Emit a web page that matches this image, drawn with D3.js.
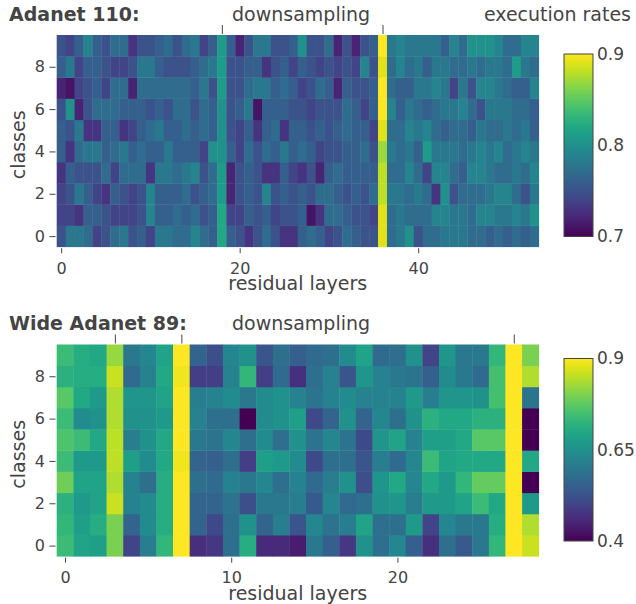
<!DOCTYPE html>
<html><head><meta charset="utf-8">
<script src="https://cdn.jsdelivr.net/npm/d3@7"></script>
<style>
body{margin:0;background:#fff}
svg{display:block}
text{font-family:"DejaVu Sans",sans-serif;fill:#444}
</style>
</head><body><svg id="chart" width="636" height="604"></svg>
<script>
// ---------- data ----------
const classes = [0, 1, 2, 3, 4, 5, 6, 7, 8, 9];
const classTicks = [0, 2, 4, 6, 8];

const adanetTitle = "Adanet 110:";
const adanetDownsampling = [18, 36];
const adanetXTicks = [0, 20, 40];
const adanetColorTicks = [0.7, 0.8, 0.9];
const adanetRange = [0.7, 0.9];
// rows = classes 0..9, columns = residual layers 0..53
const adanetRates = [
  [.75,.78,.78,.77,.74,.75,.77,.78,.75,.76,.74,.78,.78,.77,.77,.79,.77,.76,.82,.76,.75,.73,.75,.77,.75,.73,.73,.76,.77,.76,.74,.75,.77,.76,.75,.75,.89,.77,.78,.80,.75,.77,.77,.78,.78,.78,.77,.77,.76,.77,.76,.77,.76,.77],
  [.74,.74,.73,.76,.76,.75,.74,.74,.74,.75,.79,.76,.76,.77,.76,.77,.75,.76,.82,.74,.74,.76,.75,.76,.74,.75,.75,.76,.71,.73,.77,.77,.76,.75,.75,.74,.89,.77,.78,.77,.77,.77,.79,.79,.78,.78,.77,.79,.79,.78,.78,.79,.78,.80],
  [.74,.75,.78,.76,.74,.73,.76,.75,.74,.75,.79,.76,.76,.76,.77,.75,.76,.77,.81,.72,.75,.76,.75,.79,.75,.76,.75,.76,.75,.77,.77,.76,.75,.76,.75,.77,.88,.78,.78,.77,.78,.77,.73,.80,.75,.77,.77,.77,.78,.79,.79,.77,.75,.78],
  [.73,.76,.75,.75,.75,.77,.74,.77,.77,.77,.73,.78,.78,.77,.78,.79,.75,.77,.81,.72,.75,.76,.75,.73,.73,.76,.74,.73,.75,.72,.76,.77,.76,.76,.76,.76,.88,.77,.77,.79,.77,.74,.79,.79,.77,.76,.79,.79,.78,.77,.77,.78,.77,.79],
  [.76,.73,.77,.78,.78,.76,.77,.78,.76,.77,.76,.76,.78,.76,.76,.76,.74,.80,.80,.76,.74,.77,.75,.77,.76,.78,.76,.77,.76,.74,.75,.75,.76,.76,.77,.75,.87,.78,.77,.78,.76,.81,.78,.78,.78,.77,.78,.79,.78,.79,.77,.78,.79,.78],
  [.76,.75,.78,.73,.73,.76,.76,.73,.74,.76,.77,.78,.76,.76,.77,.76,.77,.76,.80,.75,.74,.76,.73,.76,.77,.73,.76,.76,.75,.76,.75,.76,.77,.76,.76,.74,.89,.77,.77,.79,.78,.79,.77,.76,.77,.77,.76,.78,.77,.77,.78,.77,.78,.76],
  [.75,.80,.72,.75,.77,.77,.77,.76,.76,.76,.75,.76,.75,.77,.77,.75,.77,.76,.80,.75,.76,.78,.71,.76,.76,.76,.75,.75,.74,.75,.75,.75,.77,.76,.74,.76,.90,.79,.76,.78,.77,.76,.77,.78,.78,.79,.77,.75,.78,.78,.78,.77,.77,.76],
  [.72,.71,.74,.75,.76,.74,.77,.77,.72,.77,.77,.77,.77,.77,.77,.76,.78,.75,.81,.75,.75,.77,.78,.78,.76,.77,.76,.74,.75,.77,.76,.72,.76,.75,.75,.76,.90,.77,.76,.76,.78,.78,.79,.78,.74,.78,.75,.79,.79,.78,.77,.76,.76,.79],
  [.76,.78,.74,.76,.76,.75,.74,.74,.75,.78,.78,.76,.75,.75,.75,.76,.77,.78,.81,.75,.75,.76,.76,.73,.75,.76,.74,.76,.75,.74,.75,.74,.75,.74,.79,.75,.89,.77,.79,.77,.78,.76,.78,.78,.77,.77,.78,.77,.78,.78,.77,.81,.78,.77],
  [.75,.74,.76,.79,.76,.75,.77,.77,.73,.75,.75,.76,.77,.75,.77,.78,.74,.76,.81,.76,.72,.75,.78,.78,.75,.75,.76,.80,.75,.75,.77,.72,.75,.72,.75,.76,.90,.78,.79,.78,.78,.78,.78,.76,.79,.77,.80,.80,.80,.79,.77,.77,.79,.79]
];

const wideTitle = "Wide Adanet 89:";
const wideDownsampling = [3, 7, 27];
const wideXTicks = [0, 10, 20];
const wideColorTicks = [0.4, 0.65, 0.9];
const wideRange = [0.4, 0.9];
// rows = classes 0..9, columns = residual layers 0..28
const wideRates = [
  [.74,.69,.68,.80,.50,.61,.73,.90,.47,.48,.58,.71,.46,.46,.44,.60,.55,.48,.65,.58,.63,.55,.47,.58,.54,.60,.73,.90,.86],
  [.73,.68,.71,.80,.56,.64,.71,.90,.56,.51,.58,.65,.56,.61,.53,.63,.59,.61,.69,.58,.58,.67,.50,.63,.60,.60,.71,.90,.84],
  [.72,.67,.69,.86,.62,.64,.71,.90,.56,.56,.59,.52,.60,.60,.61,.54,.63,.57,.58,.65,.66,.61,.67,.67,.69,.74,.70,.90,.67],
  [.79,.69,.69,.84,.62,.58,.71,.90,.58,.57,.62,.60,.63,.58,.62,.57,.61,.65,.52,.66,.70,.63,.70,.67,.73,.78,.78,.90,.40],
  [.74,.67,.67,.85,.68,.64,.70,.89,.56,.55,.58,.49,.68,.67,.64,.51,.58,.58,.53,.61,.57,.63,.74,.69,.70,.70,.70,.90,.70],
  [.76,.74,.70,.85,.61,.65,.70,.90,.60,.59,.63,.58,.64,.58,.65,.59,.63,.59,.51,.66,.69,.62,.68,.68,.70,.77,.77,.90,.40],
  [.74,.64,.65,.84,.65,.65,.67,.90,.62,.58,.58,.40,.64,.65,.68,.51,.56,.65,.56,.63,.58,.65,.72,.70,.70,.72,.72,.90,.40],
  [.77,.70,.67,.84,.66,.66,.69,.90,.61,.62,.64,.60,.64,.65,.62,.59,.62,.64,.62,.62,.62,.67,.61,.66,.66,.65,.75,.90,.59],
  [.72,.71,.71,.86,.57,.62,.70,.89,.49,.49,.62,.73,.49,.57,.47,.58,.62,.53,.66,.62,.60,.59,.55,.64,.60,.57,.75,.90,.84],
  [.74,.71,.70,.82,.60,.63,.69,.90,.56,.52,.63,.65,.53,.58,.55,.57,.58,.64,.69,.57,.58,.65,.50,.66,.60,.60,.73,.90,.80]
];

// ---------- drawing ----------
const svg = d3.select("#chart");
const defs = svg.append("defs");
const grad = defs.append("linearGradient").attr("id", "viridisGrad")
  .attr("x1", 0).attr("y1", 1).attr("x2", 0).attr("y2", 0);
d3.range(0, 1.0001, 0.05).forEach(t => {
  grad.append("stop").attr("offset", t).attr("stop-color", d3.interpolateViridis(t));
});

function panel(cfg) {
  const g = svg.append("g");
  const L = 56.7, R = 538.7;
  const top = cfg.top, bottom = cfg.top + 211.7;
  const nCols = cfg.rates[0].length;
  const x = d3.scaleLinear().domain([-0.5, nCols - 0.5]).range([L, R]);
  const y = d3.scaleLinear().domain([-0.5, classes.length - 0.5]).range([bottom, top]);
  const color = d3.scaleSequential(d3.interpolateViridis).domain(cfg.range);

  const cells = [];
  cfg.rates.forEach((row, r) => row.forEach((v, c) => cells.push({r: classes[r], c, v})));
  g.append("g").selectAll("rect").data(cells).join("rect")
    .attr("x", d => x(d.c - 0.5))
    .attr("y", d => y(d.r + 0.5))
    .attr("width", d => x(d.c + 0.5) - x(d.c - 0.5) + 0.4)
    .attr("height", d => y(d.r - 0.5) - y(d.r + 0.5) + 0.4)
    .attr("fill", d => color(d.v));

  // x axis
  const xa = g.append("g").attr("transform", `translate(0,${bottom + 1.5})`)
    .call(d3.axisBottom(x).tickValues(cfg.xTicks).tickSize(5).tickPadding(9));
  // y axis
  const ya = g.append("g").attr("transform", `translate(55.5,0)`)
    .call(d3.axisLeft(y).tickValues(classTicks).tickSize(6).tickPadding(4.5));
  // downsampling markers
  const da = g.append("g").attr("transform", `translate(0,${top - 1})`)
    .call(d3.axisTop(x).tickValues(cfg.downsampling).tickSize(9).tickFormat(""));
  [xa, ya, da].forEach(a => {
    a.select(".domain").remove();
    a.selectAll("line").attr("stroke", "#444");
    a.selectAll("text").style("font-size", "16px").attr("fill", "#444");
  });

  // axis titles
  g.append("text").attr("x", (L + R) / 2).attr("y", bottom + 43.3)
    .attr("text-anchor", "middle").style("font-size", "19px").text("residual layers");
  g.append("text").attr("transform", `translate(25,${(top + bottom) / 2 + 4}) rotate(-90)`)
    .attr("text-anchor", "middle").style("font-size", "19px").text("classes");

  // titles
  g.append("text").attr("x", 9).attr("y", top - 14.5)
    .style("font-size", "19px").style("font-weight", "bold").text(cfg.title);
  g.append("text").attr("x", 232).attr("y", top - 14.5)
    .style("font-size", "19px").text("downsampling");
  if (cfg.cbTitle) {
    g.append("text").attr("x", 631).attr("y", top - 14.5).attr("text-anchor", "end")
      .style("font-size", "19px").text(cfg.cbTitle);
  }

  // colorbar
  const cbTop = top + cfg.cbOff, cbBot = cbTop + 182.5;
  g.append("rect").attr("x", 564).attr("y", cbTop).attr("width", 29).attr("height", cbBot - cbTop)
    .attr("fill", "url(#viridisGrad)").attr("stroke", "#444").attr("stroke-width", 1);
  const cs = d3.scaleLinear().domain(cfg.range).range([cbBot, cbTop]);
  const ca = g.append("g").attr("transform", "translate(593,0)")
    .call(d3.axisRight(cs).tickValues(cfg.colorTicks).tickSize(0).tickPadding(4).tickFormat(d => String(d)));
  ca.select(".domain").remove();
  ca.selectAll("text").style("font-size", "17px").attr("fill", "#444");
}

panel({top: 35, rates: adanetRates, range: adanetRange, xTicks: adanetXTicks,
  downsampling: adanetDownsampling, title: adanetTitle, colorTicks: adanetColorTicks,
  cbTitle: "execution rates", cbOff: 19});
panel({top: 344.5, rates: wideRates, range: wideRange, xTicks: wideXTicks,
  downsampling: wideDownsampling, title: wideTitle, colorTicks: wideColorTicks,
  cbTitle: null, cbOff: 14});
</script>
</body></html>
